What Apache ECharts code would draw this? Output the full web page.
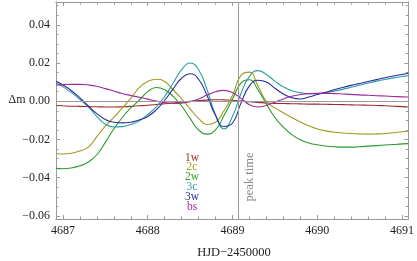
<!DOCTYPE html>
<html><head><meta charset="utf-8">
<script src="https://cdn.jsdelivr.net/npm/echarts@6/dist/echarts.min.js"></script>
<style>html,body{margin:0;padding:0;background:#fff}#c{width:417px;height:261px}</style>
</head><body><div id="c"></div>
<script>
const seriesNames = ['1w','2c','2w','3c','3w','bs'];
const peakTime = 4689.07;
const xMajor = [4687, 4688, 4689, 4690, 4691];
const yMajor = [-0.06, -0.04, -0.02, 0.00, 0.02, 0.04];

// shared time grid (HJD-2450000)
const tGrid = [4686.92, 4687.0, 4687.1, 4687.2, 4687.3, 4687.4, 4687.5, 4687.6, 4687.7, 4687.8, 4687.9,
  4688.0, 4688.1, 4688.2, 4688.3, 4688.4, 4688.5, 4688.6, 4688.7, 4688.8, 4688.9,
  4689.0, 4689.1, 4689.2, 4689.3, 4689.4, 4689.5, 4689.6, 4689.7, 4689.8, 4689.9,
  4690.0, 4690.1, 4690.2, 4690.3, 4690.4, 4690.5, 4690.6, 4690.7, 4690.8, 4690.9,
  4691.0, 4691.075];

const v1w = [-0.0022, -0.0024, -0.0026, -0.0027, -0.0028, -0.0029, -0.0030, -0.0030, -0.0029, -0.0027, -0.0024,
  -0.0021, -0.0017, -0.0013, -0.0009, -0.0005, -0.0001, 0.0003, 0.0006, 0.0008, 0.0007,
  0.0005, 0.0001, -0.0003, -0.0006, -0.0009, -0.0011, -0.0012, -0.0013, -0.0014, -0.0015,
  -0.0015, -0.0016, -0.0017, -0.0018, -0.0019, -0.0020, -0.0021, -0.0022, -0.0024, -0.0026,
  -0.0028, -0.0030];

const v2c = [-0.0273, -0.0276, -0.0272, -0.0260, -0.0240, -0.0185, -0.0130, -0.0085, -0.0035, 0.0015, 0.0071,
  0.0103, 0.0115, 0.0103, 0.0060, 0.0012, -0.0040, -0.0090, -0.0122, -0.0110, -0.0050,
  0.0030, 0.0135, 0.0152, 0.0080, 0.0000, -0.0035, -0.0060, -0.0085, -0.0108, -0.0128,
  -0.0145, -0.0155, -0.0162, -0.0166, -0.0169, -0.0171, -0.0172, -0.0171, -0.0169, -0.0165,
  -0.0160, -0.0157];

const v2w = [-0.0351, -0.0353, -0.0349, -0.0338, -0.0318, -0.0280, -0.0215, -0.0145, -0.0085, -0.0035, 0.0005,
  0.0050, 0.0072, 0.0060, 0.0025, -0.0025, -0.0090, -0.0150, -0.0172, -0.0150, -0.0075,
  0.0010, 0.0095, 0.0112, 0.0060, -0.0015, -0.0085, -0.0135, -0.0175, -0.0202, -0.0218,
  -0.0228, -0.0234, -0.0238, -0.0240, -0.0240, -0.0238, -0.0235, -0.0232, -0.0229, -0.0226,
  -0.0223, -0.0222];

const v3c = [0.0095, 0.0075, 0.0045, 0.0010, -0.0030, -0.0080, -0.0120, -0.0135, -0.0133, -0.0122, -0.0104,
  -0.0070, -0.0030, 0.0025, 0.0095, 0.0165, 0.0200, 0.0165, 0.0060, -0.0070, -0.0145,
  -0.0080, 0.0040, 0.0130, 0.0160, 0.0140, 0.0105, 0.0075, 0.0055, 0.0045, 0.0040,
  0.0040, 0.0045, 0.0053, 0.0062, 0.0073, 0.0084, 0.0095, 0.0105, 0.0114, 0.0122,
  0.0129, 0.0134];

const v3w = [0.0105, 0.0085, 0.0055, 0.0018, -0.0025, -0.0065, -0.0095, -0.0110, -0.0113, -0.0110, -0.0098,
  -0.0080, -0.0045, 0.0005, 0.0065, 0.0120, 0.0144, 0.0115, 0.0030, -0.0075, -0.0132,
  -0.0115, -0.0010, 0.0080, 0.0110, 0.0100, 0.0068, 0.0038, 0.0018, 0.0012, 0.0022,
  0.0035, 0.0047, 0.0060, 0.0072, 0.0083, 0.0093, 0.0103, 0.0113, 0.0123, 0.0132,
  0.0140, 0.0146];

const vbs = [0.0085, 0.0087, 0.0088, 0.0088, 0.0085, 0.0078, 0.0066, 0.0053, 0.0040, 0.0030, 0.0021,
  0.0011, 0.0001, -0.0007, -0.0012, -0.0010, -0.0003, 0.0012, 0.0032, 0.0050, 0.0057,
  0.0045, 0.0015, -0.0018, -0.0030, -0.0022, -0.0005, 0.0012, 0.0026, 0.0035, 0.0040,
  0.0041, 0.0041, 0.0040, 0.0038, 0.0036, 0.0033, 0.0031, 0.0029, 0.0027, 0.0025,
  0.0023, 0.0022];

const colors = ['#9e2a2a', '#a09a1e', '#2a9a2a', '#2a9e9e', '#2a2a9e', '#9e2a9e'];
const allV = [v1w, v2c, v2w, v3c, v3w, vbs];

const xMin = 4686.918, xMax = 4691.075, yMin = -0.0616, yMax = 0.0519;
const xMinor = [], yMinor = [];
for (let i = 0; i <= 25; i++) { const v = +(4686.8 + i * 0.2).toFixed(3); if (v > xMin && v < xMax && Math.abs(v - Math.round(v)) > 1e-6) xMinor.push(v); }
for (let i = 0; i <= 24; i++) { const v = +(-0.065 + i * 0.005).toFixed(4); if (v > yMin && v < yMax && Math.abs(v / 0.02 - Math.round(v / 0.02)) > 1e-6) yMinor.push(v); }

const axCol = '#9a9a9a';
const font = '"Liberation Serif", "DejaVu Serif", serif';
function xAx(pos, vals, len, labels) {
  return { type: 'value', position: pos, min: xMin, max: xMax,
    axisLine: { show: true, onZero: false, lineStyle: { color: axCol, width: 1 } },
    axisTick: { show: true, inside: true, length: len, customValues: vals, lineStyle: { color: axCol } },
    axisLabel: labels ? { show: true, customValues: vals, margin: 6, color: '#222', fontFamily: font, fontSize: 12, formatter: v => String(v) } : { show: false },
    splitLine: { show: false } };
}
function yAx(pos, vals, len, labels) {
  return { type: 'value', position: pos, min: yMin, max: yMax,
    axisLine: { show: true, onZero: false, lineStyle: { color: axCol, width: 1 } },
    axisTick: { show: true, inside: true, length: len, customValues: vals, lineStyle: { color: axCol } },
    axisLabel: labels ? { show: true, customValues: vals, margin: 6, color: '#222', fontFamily: font, fontSize: 12,
      formatter: v => (v < -1e-9 ? '\u2212' : '') + Math.abs(v).toFixed(2) } : { show: false },
    splitLine: { show: false } };
}

const series = seriesNames.map((n, i) => ({
  name: n, type: 'line', xAxisIndex: 0, yAxisIndex: 0, smooth: 0.5, showSymbol: false,
  lineStyle: { color: colors[i], width: 1.1 }, z: 3,
  data: tGrid.map((t, j) => [t, allV[i][j]])
}));
series.unshift({ type: 'line', data: [], xAxisIndex: 0, yAxisIndex: 0, silent: true, z: 2,
  markLine: { silent: true, symbol: 'none', label: { show: false }, lineStyle: { color: '#9a9a9a', width: 1, type: 'solid' },
    data: [{ yAxis: 0 }, { xAxis: peakTime }] } });

const legendY0 = 157.5, legendDy = 9.8;
const graphic = seriesNames.map((n, i) => ({ type: 'text', x: 192, y: legendY0 + i * legendDy,
  style: { text: n, fill: colors[i], font: '11.5px ' + font, textAlign: 'center', textVerticalAlign: 'middle' } }));
graphic.push({ type: 'text', x: 17, y: 100, style: { text: '\u0394m', fill: '#222', font: '12px ' + font, textAlign: 'center', textVerticalAlign: 'middle' } });
graphic.push({ type: 'text', x: 234, y: 253, style: { text: 'HJD\u22122450000', fill: '#222', font: '12.5px ' + font, textAlign: 'center', textVerticalAlign: 'middle' } });
graphic.push({ type: 'text', x: 250, y: 177, rotation: Math.PI / 2, style: { text: 'peak time', fill: '#888', font: '12.5px ' + font, textAlign: 'center', textVerticalAlign: 'middle' } });

const chart = echarts.init(document.getElementById('c'), null, { renderer: 'canvas' });
chart.setOption({
  animation: false,
  grid: { left: 56, right: 6, top: 2, bottom: 42 },
  xAxis: [xAx('bottom', xMajor, 4, true), xAx('bottom', xMinor, 2.5, false), xAx('top', xMajor, 4, false), xAx('top', xMinor, 2.5, false)],
  yAxis: [yAx('left', yMajor, 4, true), yAx('left', yMinor, 2.5, false), yAx('right', yMajor, 4, false), yAx('right', yMinor, 2.5, false)],
  series: series,
  graphic: graphic
});
</script></body></html>
